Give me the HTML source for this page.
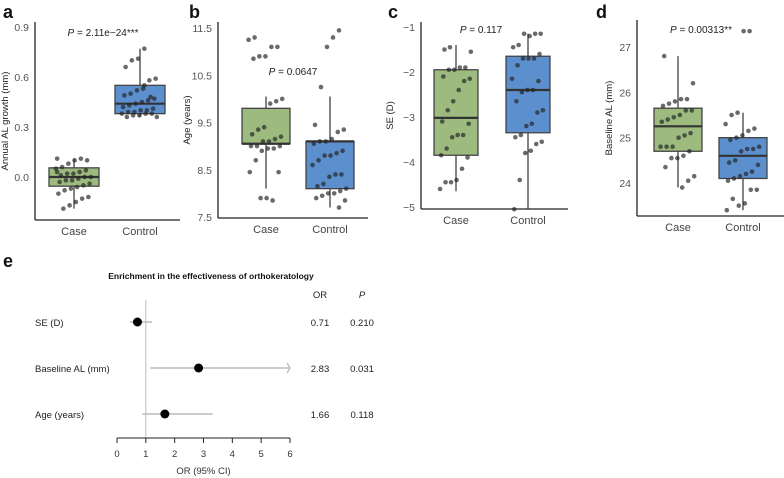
<!DOCTYPE html>
<html><head><meta charset="utf-8">
<style>
body{margin:0;background:#fff;}
svg{display:block;font-family:"Liberation Sans",Arial,sans-serif;}
</style></head>
<body>
<svg id="fig" width="784" height="478" viewBox="0 0 784 478"></svg>
<script>
// ---- data ----
const groups = ["Case","Control"];
const aCase = [0.11,0.10,0.11,0.10,0.08,0.06,0.05,0.04,0.03,0.02,0.02,0.01,0.0,0.0,-0.01,-0.02,-0.02,-0.03,-0.04,-0.05,-0.06,-0.07,-0.08,-0.10,-0.12,-0.13,-0.15,-0.17,-0.19,0.03];
const aControl = [0.77,0.71,0.70,0.66,0.59,0.58,0.53,0.52,0.50,0.49,0.47,0.46,0.45,0.44,0.43,0.42,0.41,0.40,0.40,0.39,0.39,0.38,0.38,0.38,0.37,0.37,0.36,0.36,0.48,0.55];
const aBoxCase = [-0.19,-0.055,0.0,0.055,0.11];
const aBoxControl = [0.36,0.38,0.44,0.55,0.77];
const bCase = [11.3,11.25,11.1,11.1,10.9,10.9,10.85,10.0,9.95,9.9,9.4,9.35,9.25,9.2,9.15,9.1,9.1,9.0,9.0,9.0,8.95,8.95,8.9,8.7,8.45,8.45,7.85,7.9,7.9];
const bControl = [11.45,11.3,11.1,10.25,9.45,9.35,9.3,9.15,9.1,9.1,9.05,8.9,8.85,8.8,8.8,8.7,8.6,8.4,8.4,8.35,8.2,8.15,8.1,8.05,8.0,8.0,7.95,7.9,7.85,7.7];
const bBoxCase = [8.1,9.05,9.05,9.8,10.05];
const bBoxControl = [7.7,8.1,9.1,9.1,10.05];
const cCase = [-1.45,-1.5,-1.55,-1.9,-1.9,-1.95,-1.95,-2.1,-2.15,-2.2,-2.4,-2.65,-2.85,-3.1,-3.15,-3.4,-3.4,-3.45,-3.7,-3.85,-3.9,-4.15,-4.4,-4.45,-4.45,-4.6];
const cControl = [-1.15,-1.15,-1.2,-1.15,-1.4,-1.45,-1.6,-1.7,-1.7,-1.7,-1.85,-2.15,-2.2,-2.4,-2.4,-2.45,-2.65,-2.85,-2.9,-3.15,-3.2,-3.4,-3.45,-3.55,-3.6,-3.75,-3.8,-4.4,-5.05];
const cBoxCase = [-4.65,-3.85,-3.02,-1.95,-1.4];
const cBoxControl = [-5.05,-3.35,-2.4,-1.65,-1.15];
const dCase = [26.8,26.2,25.85,25.85,25.8,25.75,25.7,25.6,25.6,25.5,25.45,25.4,25.35,25.1,25.05,25.0,24.8,24.8,24.8,24.7,24.6,24.55,24.55,24.35,24.15,24.05,23.9];
const dControl = [27.35,27.35,25.55,25.5,25.3,25.2,25.15,25.05,25.0,24.95,24.8,24.75,24.75,24.7,24.5,24.45,24.4,24.25,24.2,24.15,24.1,24.05,23.85,23.85,23.55,23.5,23.65,23.4];
const dBoxCase = [23.9,24.7,25.25,25.65,26.8];
const dBoxControl = [23.4,24.1,24.6,25.0,25.55];
const aTicks = [0.0,0.3,0.6,0.9];
const bTicks = [7.5,8.5,9.5,10.5,11.5];
const cTicks = [-5,-4,-3,-2,-1];
const dTicks = [24,25,26,27];
const fVars = ["SE (D)","Baseline AL (mm)","Age (years)"];
const fOR = [0.71,2.83,1.66];
const fLo = [0.45,1.15,0.88];
const fHi = [1.22,6.0,3.32];
const fP = ["0.210","0.031","0.118"];
const fTicks = [0,1,2,3,4,5,6];

const NS="http://www.w3.org/2000/svg";
const svg=document.getElementById('fig');
function el(tag,attrs,parent,text){const e=document.createElementNS(NS,tag);for(const k in attrs)e.setAttribute(k,attrs[k]);if(text!==undefined)e.textContent=text;(parent||svg).appendChild(e);return e;}
function txt(x,y,s,size,anchor,name,extra){const t=el('text',Object.assign({x:x,y:y,'font-size':size,'text-anchor':anchor||'start',fill:'#333'},extra||{}),svg,s);

return t;}

function panel(p){
  const g=el('g',{});
  
  
  const y=v=>p.y0+(v-p.v0)*(p.y1-p.y0)/(p.v1-p.v0);
  const l=el('line',{x1:p.ax,y1:p.top,x2:p.ax,y2:p.bot,stroke:'#222','stroke-width':1.3},g);
  
  
  const l2=el('line',{x1:p.ax,y1:p.bot,x2:p.right,y2:p.bot,stroke:'#222','stroke-width':1.3},g);
  
  
  p.ticks.forEach(t=>{txt(p.ax-6,y(t)+4,p.fmt(t),10.5,'end','y-tick-label',{fill:'#555'});});
  txt(0,0,p.ylab,9.5,'middle','y-axis-title',{transform:`translate(${p.ax-p.ylabOff},${(p.top+p.bot)/2}) rotate(-90)`,fill:'#222'});
  txt(p.lx,18,p.id,18,'start','panel-label-'+p.id,{'font-weight':'bold',fill:'#111'});
  const cols=['#9dbb7f','#5b8fce'];
  [p.boxA,p.boxB].forEach((b,gi)=>{
    const cx=p.cx[gi],hw=p.hw;
    const w=el('line',{x1:cx,y1:y(b[0]),x2:cx,y2:y(b[4]),stroke:'#333','stroke-width':1.2},g);
    
    
    const r=el('rect',{x:cx-hw,y:y(b[3]),width:2*hw,height:Math.max(1,y(b[1])-y(b[3])),fill:cols[gi],stroke:'#444','stroke-width':1.3},g);
    
    
    const m=el('line',{x1:cx-hw,y1:y(b[2]),x2:cx+hw,y2:y(b[2]),stroke:'#333','stroke-width':2.2},g);
    
    
    txt(cx,p.bot+15,groups[gi],11,'middle','x-tick-label',{fill:'#444'});
  });
  [p.ptsA,p.ptsB].forEach((arr,gi)=>{
    arr.forEach((v,i)=>{
      const j=((i*53+gi*17+p.seed)%29)/29-0.5;
      const c=el('circle',{cx:p.cx[gi]+j*p.hw*1.45,cy:y(v),r:2.3,fill:'rgba(35,35,35,0.68)'},g);
      
      
    });
  });
  const pt=el('text',{x:p.px,y:p.py,'font-size':10,'text-anchor':'middle',fill:'#222'},svg);
  
  
  el('tspan',{'font-style':'italic'},pt,'P');
  el('tspan',{},pt,p.ptext);
}
panel({id:'a',lx:3,ax:35,top:22,bot:220,right:180,v0:0,y0:177,v1:0.9,y1:27,ticks:aTicks,fmt:t=>t.toFixed(1),ylab:'Annual AL growth (mm)',ylabOff:27,cx:[74,140],hw:25,boxA:aBoxCase,boxB:aBoxControl,ptsA:aCase,ptsB:aControl,seed:1,px:103,py:36,ptext:' = 2.11e−24***'});
panel({id:'b',lx:189,ax:218,top:22,bot:218,right:368,v0:7.5,y0:217,v1:11.5,y1:28,ticks:bTicks,fmt:t=>t.toFixed(1),ylab:'Age (years)',ylabOff:28,cx:[266,330],hw:24,boxA:bBoxCase,boxB:bBoxControl,ptsA:bCase,ptsB:bControl,seed:5,px:293,py:75,ptext:' = 0.0647'});
panel({id:'c',lx:388,ax:421,top:22,bot:209,right:568,v0:-1,y0:27,v1:-5,y1:207,ticks:cTicks,fmt:t=>'−'+Math.abs(t),ylab:'SE (D)',ylabOff:28,cx:[456,528],hw:22,boxA:cBoxCase,boxB:cBoxControl,ptsA:cCase,ptsB:cControl,seed:9,px:481,py:33,ptext:' = 0.117'});
panel({id:'d',lx:596,ax:637,top:20,bot:216,right:784,v0:27,y0:47,v1:24,y1:183,ticks:dTicks,fmt:t=>String(t),ylab:'Baseline AL (mm)',ylabOff:25,cx:[678,743],hw:24,boxA:dBoxCase,boxB:dBoxControl,ptsA:dCase,ptsB:dControl,seed:3,px:701,py:33,ptext:' = 0.00313**'});

// ---- forest plot ----
txt(3,267,'e',18,'start','panel-label-e',{'font-weight':'bold',fill:'#111'});
txt(211,279,'Enrichment in the effectiveness of orthokeratology',8.5,'middle','forest-title',{'font-weight':'bold',fill:'#111'});
txt(320,298,'OR',9.5,'middle','or-header',{fill:'#222'});
txt(362,298,'P',9.5,'middle','p-header',{fill:'#222','font-style':'italic'});
const fx=v=>117+v*(290-117)/6;
const rowY=i=>322+i*46;
const ref=el('line',{x1:fx(1),y1:300,x2:fx(1),y2:438,stroke:'#bbb','stroke-width':1});


const fa=el('line',{x1:fx(0),y1:438,x2:fx(6),y2:438,stroke:'#222','stroke-width':1});


fTicks.forEach(t=>{
  const tk=el('line',{x1:fx(t),y1:438,x2:fx(t),y2:443,stroke:'#222','stroke-width':1});
  
  
  txt(fx(t),457,String(t),9.5,'middle','forest-tick-label',{fill:'#333'});
});
txt(fx(3),474,'OR (95% CI)',9.5,'middle','forest-x-title',{fill:'#333'});
fVars.forEach((v,i)=>{
  const y=rowY(i);
  txt(35,y+4,v,9.5,'start','forest-row-label',{fill:'#222'});
  const ci=el('line',{x1:fx(fLo[i]),y1:y,x2:fx(fHi[i]),y2:y,stroke:'#bbb','stroke-width':1.5});
  
  
  if(fHi[i]>=6){const ar=el('path',{d:`M${fx(6)-3},${y-5} L${fx(6)},${y} L${fx(6)-3},${y+5}`,fill:'none',stroke:'#bbb','stroke-width':1.3});
    
    }
  const d=el('circle',{cx:fx(fOR[i]),cy:y,r:4.5,fill:'#000'});
  
  
  txt(320,y+4,fOR[i].toFixed(2),9.5,'middle','or-value',{fill:'#222'});
  txt(362,y+4,fP[i],9.5,'middle','p-value-cell',{fill:'#222'});
});
</script>
</body></html>
